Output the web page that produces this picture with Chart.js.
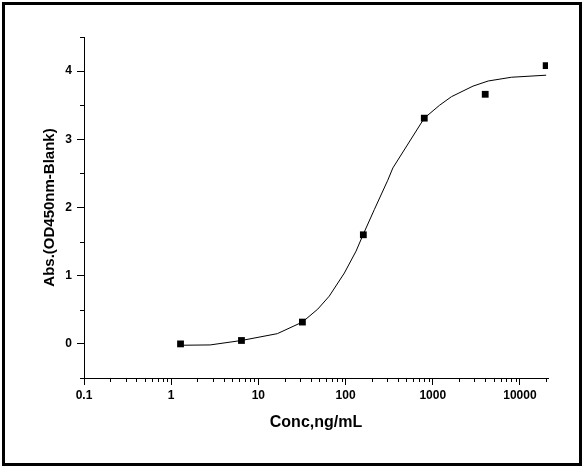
<!DOCTYPE html>
<html>
<head>
<meta charset="utf-8">
<script src="https://cdn.jsdelivr.net/npm/chart.js@4/dist/chart.umd.min.js"></script>
<style>
  html, body { margin: 0; padding: 0; background: #fff; }
  #wrap { width: 585px; height: 468px; }
</style>
</head>
<body>
<div id="wrap"><canvas id="chart" width="585" height="468"></canvas></div>
<script>
// measured points (concentration ng/mL, OD450 - blank)
const concX = [1.28, 6.4, 32, 160, 800, 4000, 20000]
const absY = [0.0, 0.05, 0.32, 1.6, 3.31, 3.66, 4.08]

// fitted curve
const curveX = [1.28, 2.8, 6.4, 16.5, 32, 48, 65, 97, 132, 160, 214, 305, 349, 556, 800, 1200, 1640, 2900, 4330, 8000, 20000]
const curveY = [-0.02, -0.015, 0.05, 0.15, 0.32, 0.51, 0.7, 1.04, 1.36, 1.61, 1.97, 2.4, 2.58, 2.99, 3.31, 3.5, 3.625, 3.78, 3.855, 3.91, 3.94]

// axis ticks
const xTickValues = [0.1, 1, 10, 100, 1000, 10000]
const yTickValues = [0, 1, 2, 3, 4]
const yMinorValues = [-0.5, 0.5, 1.5, 2.5, 3.5, 4.5]

const FONT = '"Liberation Sans", Arial, sans-serif'

// minor ticks + outer frame
const extrasPlugin = {
  id: 'extras',
  afterDraw(chart) {
    const ctx = chart.ctx
    const xs = chart.scales.x
    const ys = chart.scales.y
    const area = chart.chartArea
    ctx.save()
    ctx.strokeStyle = '#000'
    ctx.lineWidth = 1
    ctx.beginPath()
    for (let k = -1; k <= 4; k++) {
      for (let m = 2; m <= 9; m++) {
        const v = m * Math.pow(10, k)
        if (v > xs.max) continue
        const px = Math.round(xs.getPixelForValue(v)) + 0.5
        ctx.moveTo(px, area.bottom)
        ctx.lineTo(px, area.bottom + 4)
      }
    }
    yMinorValues.forEach((v) => {
      const py = Math.round(ys.getPixelForValue(v)) + 0.5
      ctx.moveTo(area.left, py)
      ctx.lineTo(area.left - 4, py)
    })
    ctx.stroke()
    ctx.lineWidth = 3
    ctx.strokeRect(3.5, 3.5, 577, 461)
    ctx.restore()
  },
}

const ctx = document.getElementById('chart')
new Chart(ctx, {
  type: 'scatter',
  data: {
    datasets: [
      {
        label: 'fit',
        data: curveX.map((x, i) => ({ x: x, y: curveY[i] })),
        showLine: true,
        borderColor: '#000',
        borderWidth: 1,
        pointRadius: 0,
        tension: 0,
      },
      {
        label: 'data',
        data: concX.map((x, i) => ({ x: x, y: absY[i] })),
        pointStyle: 'rect',
        pointRadius: 4.8,
        backgroundColor: '#000',
        borderColor: '#000',
        borderWidth: 0,
      },
    ],
  },
  options: {
    responsive: false,
    animation: false,
    devicePixelRatio: 1,
    layout: { padding: { top: 37, right: 37, left: 0, bottom: 0 } },
    plugins: {
      legend: { display: false },
      tooltip: { enabled: false },
    },
    scales: {
      x: {
        type: 'logarithmic',
        min: 0.1,
        max: 21000,
        afterBuildTicks: (scale) => {
          scale.ticks = xTickValues.map((v) => ({ value: v }))
        },
        afterFit: (scale) => {
          scale.height = 90
        },
        ticks: {
          autoSkip: false,
          maxRotation: 0,
          padding: 3,
          color: '#000',
          font: { family: FONT, size: 12, weight: 'bold' },
          callback: (v) => String(v),
        },
        grid: {
          drawOnChartArea: false,
          tickLength: 7,
          tickColor: '#000',
          tickWidth: 1,
        },
        border: { display: true, color: '#000', width: 1 },
        title: {
          display: true,
          text: 'Conc,ng/mL',
          color: '#000',
          font: { family: FONT, size: 16, weight: 'bold' },
          padding: { top: 0, bottom: 36 },
        },
      },
      y: {
        type: 'linear',
        min: -0.5,
        max: 4.5,
        afterBuildTicks: (scale) => {
          scale.ticks = yTickValues.map((v) => ({ value: v }))
        },
        afterFit: (scale) => {
          scale.width = 84
        },
        ticks: {
          padding: 5,
          color: '#000',
          font: { family: FONT, size: 12, weight: 'bold' },
          callback: (v) => String(v),
        },
        grid: {
          drawOnChartArea: false,
          tickLength: 7,
          tickColor: '#000',
          tickWidth: 1,
        },
        border: { display: true, color: '#000', width: 1 },
        title: {
          display: true,
          text: 'Abs.(OD450nm-Blank)',
          color: '#000',
          font: { family: FONT, size: 15, weight: 'bold' },
          padding: { top: 41, bottom: 0 },
        },
      },
    },
  },
  plugins: [extrasPlugin],
})
</script>
</body>
</html>
